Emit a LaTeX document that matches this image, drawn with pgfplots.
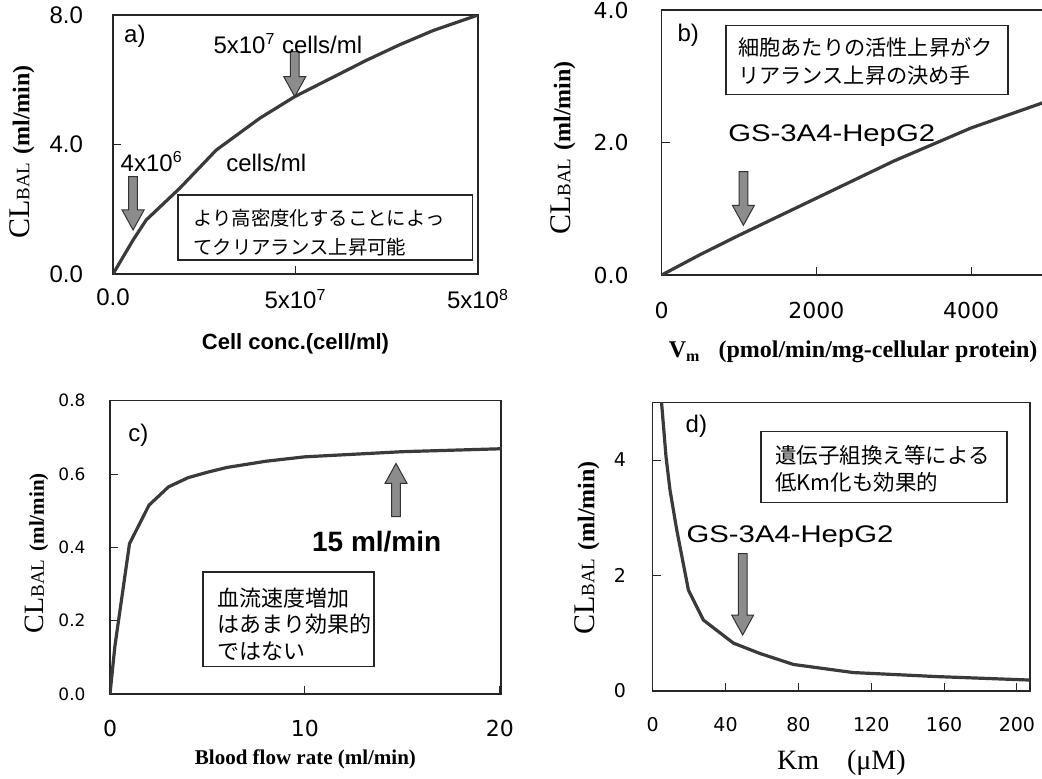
\documentclass[border=0pt]{standalone}
\usepackage{pgfplots}
\pgfplotsset{compat=1.18}
\usepackage{fontspec}
\usetikzlibrary{calc}
\setmainfont{Liberation Serif}
\setsansfont{Liberation Sans}
\newfontfamily\arial{Liberation Sans}
\newfontfamily\arialw[FakeStretch=1.22]{Liberation Sans}
\newfontfamily\dejavu{DejaVu Sans}
\newfontfamily\jp{Noto Sans CJK JP}
\definecolor{curvec}{HTML}{3A3A3A}
\definecolor{arrowf}{HTML}{8C8C8C}
\newcommand{\fs}[1]{\fontsize{#1}{#1}\selectfont}
\newcommand{\clbal}[3]{{\fs{#1}CL}{\fs{#2}BAL}\hspace{4pt}{\fs{#3}\bfseries (ml/min)}}
% x, y of tail, y of tip, direction (1 = pointing down, -1 = pointing up)
\newcommand{\garrow}[4]{%
  \draw[fill=arrowf, draw=black!80, line width=0.5pt, line join=miter]
    ($(axis cs:#1,#2)+(-2.2pt,0)$) --
    ($(axis cs:#1,#3)+(-2.2pt,{#4*10pt})$) --
    ($(axis cs:#1,#3)+(-5.5pt,{#4*10pt})$) --
    (axis cs:#1,#3) --
    ($(axis cs:#1,#3)+(5.5pt,{#4*10pt})$) --
    ($(axis cs:#1,#3)+(2.2pt,{#4*10pt})$) --
    ($(axis cs:#1,#2)+(2.2pt,0)$) -- cycle;}
\tikzset{jbox/.style={draw=black!85, line width=0.6pt, fill=white}}
\pgfplotsset{
  every axis/.append style={scale only axis, anchor=south west,
    axis line style={black!85, line width=0.6pt},
    tick style={black!85, line width=0.5pt}, major tick length=4pt,
    tick pos=left},
  mycurve/.style={curvec, line width=1.6pt, line join=round, no marks},
}
\begin{document}
\begin{tikzpicture}
% ---------------- a ----------------
\begin{axis}[at={(56.5pt,-137pt)}, width=182.5pt, height=129.5pt,
  xmin=0, xmax=1, ymin=0, ymax=8,
  xtick={0,0.5,1}, xticklabels={0.0,5x10\textsuperscript{7},5x10\textsuperscript{8}},
  ytick={0,4,8}, yticklabels={0.0,4.0,8.0},
  tick label style={font=\arial\fs{12}},
  yticklabel style={xshift=-11.5pt}, xticklabel style={yshift=-4pt},
  xlabel={Cell conc.(cell/ml)},
  xlabel style={font=\arial\bfseries\fs{11}, at={(axis description cs:0.5,-0.27)}, anchor=center},
  ylabel={\clbal{15}{9.5}{12}},
  ylabel style={at={(axis description cs:-0.249,0.471)}, anchor=center},
]
\addplot[mycurve] coordinates {(0,0) (0.055,1.05) (0.091,1.67) (0.183,2.65) (0.283,3.83) (0.402,4.81) (0.498,5.48) (0.603,6.08) (0.694,6.6) (0.785,7.08) (0.877,7.52) (1.0,8.0)};
\draw[jbox] (axis cs:0.178,2.44) rectangle (axis cs:0.986,0.43);
\node[anchor=west, align=left, inner sep=0pt, font=\jp\fontsize{9.7}{14.5}\selectfont] at (axis cs:0.219,1.28) {より高密度化することによっ\\てクリアランス上昇可能};
\garrow{0.055}{3.01}{1.36}{1}
\garrow{0.498}{6.87}{5.48}{1}
\node[font=\arial\fs{12}] at (axis cs:0.06,7.33) {a)};
\node[font=\arial\fs{12}] at (axis cs:0.479,7.12) {5x10\textsuperscript{7} cells/ml};
\node[font=\arial\fs{12}] at (axis cs:0.106,3.47) {4x10\textsuperscript{6}};
\node[font=\arial\fs{12}] at (axis cs:0.42,3.42) {cells/ml};
\end{axis}
% ---------------- b ----------------
\begin{axis}[at={(330.85pt,-137.5pt)}, width=193.4pt, height=132.5pt,
  xmin=0, xmax=5000, ymin=0, ymax=4,
  xtick={0,2000,4000}, xticklabels={0,2000,4000},
  ytick={0,2,4}, yticklabels={0.0,2.0,4.0},
  tick label style={font=\dejavu\fs{11}},
  yticklabel style={xshift=-13pt}, xticklabel style={yshift=-10pt},
  xlabel={V\textsubscript{m}\hspace{9pt}(pmol/min/mg-cellular protein)},
  xlabel style={font=\bfseries\fs{12}, at={(axis description cs:0.495,-0.29)}, anchor=center},
  ylabel={\clbal{15}{9.5}{12}},
  ylabel style={at={(axis description cs:-0.255,0.479)}, anchor=center},
]
\addplot[mycurve] coordinates {(0,0) (500,0.31) (1000,0.6) (2000,1.16) (3000,1.72) (4000,2.22) (5000,2.63)};
\draw[jbox] (axis cs:831,3.77) rectangle (axis cs:4477,2.72);
\node[anchor=west, align=left, inner sep=0pt, font=\jp\fontsize{10.6}{14}\selectfont] at (axis cs:986,3.23) {細胞あたりの活性上昇がク\\リアランス上昇の決め手};
\garrow{1056}{1.56}{0.75}{1}
\node[font=\arial\fs{12}] at (axis cs:344,3.62) {b)};
\node[font=\arialw\fs{12}] at (axis cs:2198,2.11) {GS-3A4-HepG2};
\end{axis}
% ---------------- c ----------------
\begin{axis}[at={(55pt,-347pt)}, width=195.45pt, height=146.65pt,
  xmin=0, xmax=20.05, ymin=0, ymax=0.8,
  xtick={0,10,20}, xticklabels={0,10,20},
  ytick={0,0.2,0.4,0.6,0.8}, yticklabels={0.0,0.2,0.4,0.6,0.8},
  yticklabel style={font=\dejavu\fs{8.5}, xshift=-8.7pt},
  xticklabel style={font=\dejavu\fs{11}, yshift=-9.3pt},
  xlabel={Blood flow rate (ml/min)},
  xlabel style={font=\bfseries\fs{10.5}, at={(axis description cs:0.5,-0.222)}, anchor=center},
  ylabel={\clbal{14}{9.5}{10.5}},
  ylabel style={at={(axis description cs:-0.187,0.48)}, anchor=center},
]
\addplot[mycurve] coordinates {(0,0) (0.25,0.13) (1,0.41) (2,0.515) (3,0.565) (4,0.59) (5,0.605) (6,0.618) (8,0.635) (10,0.647) (15,0.661) (20.05,0.669)};
\draw[jbox] (axis cs:4.77,0.333) rectangle (axis cs:13.54,0.074);
\node[anchor=west, align=left, inner sep=0pt, font=\jp\fontsize{11}{13.25}\selectfont] at (axis cs:5.49,0.191) {血流速度増加\\はあまり効果的\\ではない};
\garrow{14.67}{0.484}{0.629}{-1}
\node[font=\arial\fs{12}] at (axis cs:1.45,0.706) {c)};
\node[font=\arial\bfseries\fs{14}] at (axis cs:13.68,0.415) {15 ml/min};
\end{axis}
% ---------------- d ----------------
\begin{axis}[at={(326.35pt,-345.5pt)}, width=188.65pt, height=144.35pt,
  xmin=0, xmax=207.2, ymin=0, ymax=5,
  xtick={0,40,80,120,160,200}, xticklabels={0,40,80,120,160,200},
  ytick={0,2,4}, yticklabels={0,2,4},
  tick label style={font=\dejavu\fs{9.5}},
  yticklabel style={xshift=-9.8pt}, xticklabel style={yshift=-9.8pt},
  xlabel={Km\hspace{14pt}(μM)},
  xlabel style={font=\fs{14}, at={(axis description cs:0.5,-0.25)}, anchor=center},
  ylabel={\clbal{15}{9.5}{12}},
  ylabel style={at={(axis description cs:-0.174,0.495)}, anchor=center},
]
\addplot[mycurve] coordinates {(4.6,5.3) (4.9,4.98) (7.3,4.06) (9.5,3.48) (13.2,2.79) (19.6,1.75) (27.8,1.23) (44.3,0.83) (58.9,0.65) (77.3,0.46) (110,0.32) (156,0.25) (207,0.19)};
\draw[jbox] (axis cs:59.5,4.49) rectangle (axis cs:194.6,3.27);
\node[anchor=west, align=left, inner sep=0pt, font=\jp\fontsize{10.75}{13.5}\selectfont] at (axis cs:67.2,3.85) {遺伝子組換え等による\\低Km化も効果的};
\garrow{49.4}{2.38}{0.97}{1}
\node[font=\arial\fs{12}] at (axis cs:24,4.58) {d)};
\node[font=\arialw\fs{12}] at (axis cs:75.4,2.67) {GS-3A4-HepG2};
\end{axis}
\pgfresetboundingbox
\useasboundingbox (0,0) rectangle (521pt,-389pt);
\end{tikzpicture}
\end{document}
